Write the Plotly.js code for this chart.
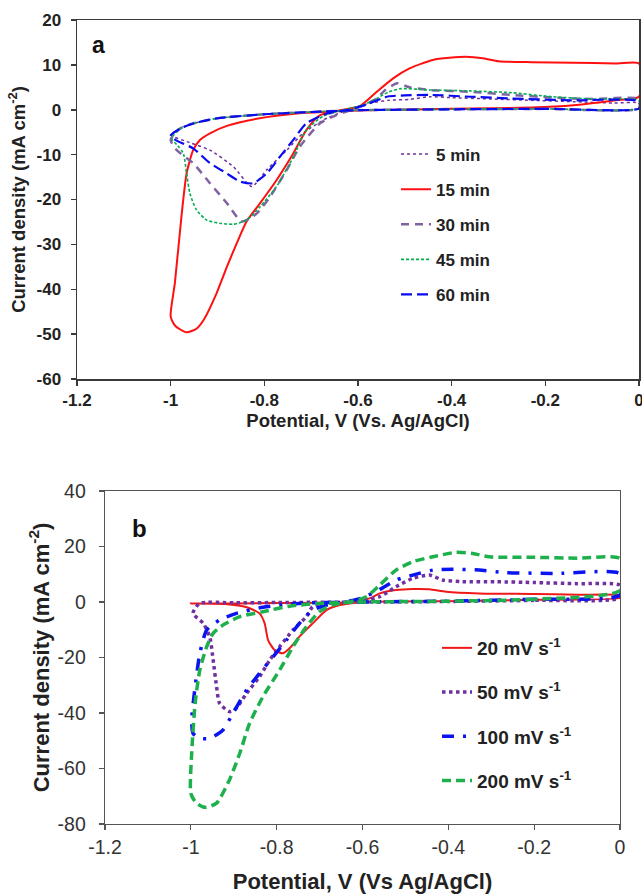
<!DOCTYPE html>
<html>
<head>
<meta charset="utf-8">
<script src="https://cdn.plot.ly/plotly-3.0.1.min.js"></script>
<style>html,body{margin:0;padding:0;background:#fff;}#chart{width:642px;height:894px;}</style>
</head>
<body>
<div id="chart"></div>
<script>
// ---------- Panel (a): deposition time ----------
const namesA = ["5 min", "15 min", "30 min", "45 min", "60 min"];

const x5 = [0, -0.2, -0.4, -0.6, -0.7, -0.8, -0.9, -0.95, -0.975, -1.0, -0.96, -0.916, -0.866, -0.827, -0.795, -0.752, -0.717, -0.667, -0.62, -0.577, -0.534, -0.49, -0.447, -0.403, -0.316, -0.228, -0.141, -0.054, 0, 0];
const y5 = [0.3, 0.2, 0.1, -0.1, -0.5, -1.0, -1.9, -3.0, -4.0, -5.6, -7.3, -9.0, -12.7, -17.1, -13.4, -9.0, -5.2, -1.9, 0, 1.4, 2.1, 2.3, 2.9, 2.7, 2.4, 2.1, 1.8, 1.5, 1.5, 0.3];

const x15 = [0, -0.05, -0.14, -0.23, -0.4, -0.58, -0.66, -0.74, -0.81, -0.88, -0.916, -0.937, -0.952, -0.966, -0.977, -0.991, -1.0, -0.99, -0.966, -0.945, -0.93, -0.902, -0.88, -0.859, -0.838, -0.809, -0.774, -0.738, -0.71, -0.681, -0.632, -0.596, -0.56, -0.525, -0.49, -0.44, -0.37, -0.33, -0.30, -0.23, -0.14, -0.05, 0, 0];
const y15 = [2.9, 2.1, 1.0, 0.5, 0.2, -0.1, -0.4, -0.95, -1.9, -3.6, -5.25, -6.7, -9.0, -14.2, -23.8, -38.6, -46.1, -48.2, -49.6, -48.8, -46.9, -40.9, -35, -29.8, -24.9, -20.8, -15.7, -9.7, -4.5, -1.2, 0.0, 0.8, 4.0, 7.0, 9.2, 11.1, 11.8, 11.4, 10.8, 10.6, 10.5, 10.3, 10.3, 2.9];

const x30 = [0, -0.2, -0.4, -0.6, -0.7, -0.8, -0.9, -0.95, -0.98, -1.0, -0.987, -0.952, -0.916, -0.88, -0.848, -0.816, -0.788, -0.752, -0.724, -0.681, -0.646, -0.6, -0.56, -0.542, -0.516, -0.49, -0.447, -0.36, -0.272, -0.185, -0.098, 0, 0];
const y30 = [0.3, 0.2, 0.1, -0.1, -0.5, -1.0, -1.9, -3.0, -4.2, -6.7, -9, -11.9, -16.4, -20.8, -24.9, -23.1, -19.4, -13.4, -8.2, -3.0, -1.2, 0.5, 2.5, 4.4, 5.9, 5.0, 4.4, 4.0, 3.3, 2.7, 2.4, 2.4, 0.3];

const x45 = [0, -0.2, -0.4, -0.6, -0.7, -0.8, -0.9, -0.95, -0.98, -0.998, -0.985, -0.973, -0.966, -0.959, -0.945, -0.923, -0.895, -0.866, -0.838, -0.809, -0.774, -0.738, -0.71, -0.674, -0.63, -0.59, -0.56, -0.534, -0.508, -0.447, -0.36, -0.272, -0.185, -0.098, 0, 0];
const y45 = [0.3, 0.2, 0.1, -0.1, -0.5, -1.0, -1.9, -3.0, -4.2, -6.4, -8.0, -9.7, -14.2, -18.6, -22.3, -24.6, -25.3, -25.5, -24.6, -21.6, -17.1, -10.5, -4.5, -1.4, 0, 1.0, 2.5, 4.0, 4.7, 4.4, 4.2, 3.8, 2.9, 2.4, 2.1, 0.3];

const x60 = [0, -0.2, -0.4, -0.6, -0.7, -0.8, -0.9, -0.95, -0.98, -1.0, -0.985, -0.952, -0.916, -0.88, -0.852, -0.824, -0.795, -0.767, -0.738, -0.71, -0.667, -0.62, -0.58, -0.55, -0.534, -0.5, -0.447, -0.36, -0.272, -0.141, 0, 0];
const y60 = [0.3, 0.2, 0.1, -0.1, -0.5, -1.0, -1.9, -3.0, -4.2, -5.8, -7.0, -8.6, -11.9, -14.2, -16.0, -16.4, -14.2, -10.5, -6.7, -3.0, -0.9, 0, 1.2, 2.5, 3.0, 3.2, 3.3, 2.9, 2.5, 2.1, 1.9, 0.3];

// ---------- Panel (b): scan rate ----------
const namesB = ["20 mV s<sup>-1</sup>", "50 mV s<sup>-1</sup>", "100 mV s<sup>-1</sup>", "200 mV s<sup>-1</sup>"];

const x20 = [0, -0.2, -0.4, -0.6, -0.63, -0.653, -0.684, -0.716, -0.747, -0.77, -0.785, -0.805, -0.82, -0.828, -0.84, -0.87, -0.92, -1.0, -0.9, -0.8, -0.7, -0.62, -0.58, -0.56, -0.522, -0.483, -0.444, -0.405, -0.328, -0.2, -0.1, 0, 0];
const y20 = [1.5, 0.8, 0.3, 0, -0.5, -1.1, -2.9, -7.7, -12.5, -16.7, -18.5, -17.3, -13.7, -7.7, -4.1, -1.9, -0.7, -0.5, -0.5, -0.4, -0.3, 0, 1.5, 3.1, 4.3, 4.7, 4.6, 3.7, 3.1, 2.9, 2.6, 2.4, 1.5];

const x50 = [0, -0.2, -0.4, -0.6, -0.8, -0.9, -0.98, -0.995, -0.971, -0.956, -0.948, -0.94, -0.933, -0.91, -0.898, -0.87, -0.84, -0.816, -0.793, -0.762, -0.731, -0.716, -0.69, -0.64, -0.6, -0.56, -0.522, -0.483, -0.444, -0.413, -0.367, -0.289, -0.2, -0.1, 0, 0];
const y50 = [1.5, 0.6, 0.2, 0, -0.2, -0.3, -0.5, -4.1, -7.7, -12.5, -20.9, -30.5, -36.5, -39.5, -38.9, -32.9, -26.9, -20.9, -16.1, -10.1, -5.3, -1.7, -0.6, 0, 0.5, 1.9, 5.5, 8.5, 9.7, 7.9, 7.3, 7.3, 7.0, 6.6, 6.0, 1.5];

const x100 = [0, -0.2, -0.4, -0.6, -0.75, -0.832, -0.894, -0.933, -0.963, -0.979, -0.99, -0.998, -0.995, -0.979, -0.956, -0.925, -0.902, -0.87, -0.84, -0.808, -0.777, -0.747, -0.716, -0.684, -0.64, -0.6, -0.56, -0.522, -0.483, -0.436, -0.39, -0.328, -0.266, -0.15, 0, 0];
const y100 = [2.5, 1.0, 0.3, 0, -0.5, -1.9, -4.1, -6.5, -10.1, -18.5, -30.5, -42.5, -47.3, -49.1, -49.1, -46.1, -40.1, -31.7, -25.7, -19.7, -13.7, -7.7, -2.9, -1.1, 0, 1.5, 4.5, 7.9, 9.7, 11.5, 11.8, 11.5, 10.6, 10.3, 10.2, 2.5];

const x200 = [0, -0.2, -0.4, -0.6, -0.7, -0.77, -0.832, -0.886, -0.925, -0.948, -0.963, -0.979, -0.99, -0.998, -1.0, -0.987, -0.967, -0.94, -0.91, -0.886, -0.863, -0.832, -0.793, -0.762, -0.731, -0.7, -0.669, -0.63, -0.591, -0.56, -0.522, -0.483, -0.436, -0.382, -0.343, -0.305, -0.2, -0.1, 0, 0];
const y200 = [4.2, 1.0, 0.3, 0, -0.5, -1.5, -3.5, -5.3, -8.3, -11.3, -16.1, -24.5, -36.5, -54.5, -69, -72.5, -74, -72.5, -64.1, -54.5, -43.7, -34.1, -24.5, -16.1, -8.9, -3.5, -1.0, 0, 1.9, 6.1, 11.5, 14.5, 16.3, 17.9, 17.5, 16.3, 16.1, 15.8, 15.6, 4.2];

// ---------- tick labels ----------
const xTickVals = [-1.2, -1, -0.8, -0.6, -0.4, -0.2, 0];
const xTickText = ["-1.2", "-1", "-0.8", "-0.6", "-0.4", "-0.2", "0"];
const yTickValsA = [-60, -50, -40, -30, -20, -10, 0, 10, 20];
const yTickTextA = ["-60", "-50", "-40", "-30", "-20", "-10", "0", "10", "20"];
const yTickValsB = [-80, -60, -40, -20, 0, 20, 40];
const yTickTextB = ["-80", "-60", "-40", "-20", "0", "20", "40"];

const FONT = "Liberation Sans, Arial, sans-serif";

function tr(x, y, name, color, width, dash, xa, ya, leg, grp) {
  return {
    x: x, y: y, name: name, type: "scatter", mode: "lines",
    line: {color: color, width: width, dash: dash, shape: "spline", smoothing: 0.6},
    xaxis: xa, yaxis: ya, legend: leg, legendgroup: grp, hoverinfo: "skip"
  };
}

const data = [
  tr(x5, y5, namesA[0], "#7030A0", 1.5, "dot", "x", "y", "legend", "a1"),
  tr(x15, y15, namesA[1], "#FF1010", 2, "solid", "x", "y", "legend", "a2"),
  tr(x30, y30, namesA[2], "#8064A2", 2.5, "8px,6px", "x", "y", "legend", "a3"),
  tr(x45, y45, namesA[3], "#00B050", 1.6, "3px,2px", "x", "y", "legend", "a4"),
  tr(x60, y60, namesA[4], "#0A0AF0", 2.2, "11px,5px", "x", "y", "legend", "a5"),
  tr(x20, y20, namesB[0], "#F01818", 2, "solid", "x2", "y2", "legend2", "b1"),
  tr(x50, y50, namesB[1], "#7030A0", 3.5, "dot", "x2", "y2", "legend2", "b2"),
  tr(x100, y100, namesB[2], "#0A14F0", 3.5, "12px,9px,3px,9px", "x2", "y2", "legend2", "b3"),
  tr(x200, y200, namesB[3], "#1DB04C", 3.5, "9px,5px", "x2", "y2", "legend2", "b4")
];

const axA = {
  showgrid: false, zeroline: false, showline: true, mirror: true,
  linecolor: "#3a3a3a", linewidth: 1.5, ticks: "outside", ticklen: 5, tickwidth: 1.5, tickcolor: "#3a3a3a",
  ticklabeloverflow: "allow",
  tickfont: {family: FONT, size: 17, color: "#222", weight: 700}
};
const axB = {
  showgrid: false, zeroline: false, showline: true, mirror: true,
  linecolor: "#555", linewidth: 1.3, ticks: "outside", ticklen: 5, tickwidth: 1.3, tickcolor: "#555",
  ticklabeloverflow: "allow",
  tickfont: {family: FONT, size: 19.5, color: "#333"}
};

const layout = {
  width: 642, height: 894,
  margin: {l: 0, r: 0, t: 0, b: 0},
  paper_bgcolor: "#fff", plot_bgcolor: "#fff",
  font: {family: FONT},
  showlegend: true,
  xaxis: Object.assign({}, axA, {
    domain: [77/642, 639/642], range: [-1.2, 0], anchor: "y",
    tickvals: xTickVals, ticktext: xTickText,
    title: {text: "Potential, V (Vs. Ag/AgCl)", font: {family: FONT, size: 18.5, color: "#222", weight: 700}, standoff: 0}
  }),
  yaxis: Object.assign({}, axA, {
    domain: [1 - 379/894, 1 - 20/894], range: [-60, 20], anchor: "x",
    ticklabelstandoff: 6,
    tickvals: yTickValsA, ticktext: yTickTextA,
    title: {text: "Current density (mA cm<sup>-2</sup>)", font: {family: FONT, size: 18.5, color: "#222", weight: 700}, standoff: 6}
  }),
  xaxis2: Object.assign({}, axB, {
    domain: [105/642, 620/642], range: [-1.2, 0], anchor: "y2",
    tickvals: xTickVals, ticktext: xTickText,
    title: {text: "Potential, V (Vs Ag/AgCl)", font: {family: FONT, size: 22, color: "#222", weight: 700}, standoff: 18}
  }),
  yaxis2: Object.assign({}, axB, {
    domain: [1 - 824/894, 1 - 491/894], range: [-80, 40], anchor: "x2",
    ticklabelstandoff: 9,
    tickvals: yTickValsB, ticktext: yTickTextB,
    title: {text: "Current density (mA cm<sup>-2</sup>)", font: {family: FONT, size: 22, color: "#222", weight: 700}, standoff: 2}
  }),
  legend: {
    x: 396/642, y: 1 - 136.5/894, xanchor: "left", yanchor: "top",
    bgcolor: "rgba(0,0,0,0)", borderwidth: 0,
    font: {family: FONT, size: 17, color: "#222", weight: 700},
    tracegroupgap: 10, itemclick: false
  },
  legend2: {
    x: 437/642, y: 1 - 629/894, xanchor: "left", yanchor: "top",
    bgcolor: "rgba(0,0,0,0)", borderwidth: 0,
    font: {family: FONT, size: 19, color: "#222", weight: 700},
    tracegroupgap: 16.5, itemclick: false
  },
  annotations: [
    {text: "a", xref: "paper", yref: "paper", x: 98/642, y: 1 - 45/894, xanchor: "center", yanchor: "middle",
     showarrow: false, font: {family: FONT, size: 23, color: "#111", weight: 700}},
    {text: "b", xref: "paper", yref: "paper", x: 139/642, y: 1 - 528/894, xanchor: "center", yanchor: "middle",
     showarrow: false, font: {family: FONT, size: 24, color: "#111", weight: 700}}
  ]
};

Plotly.newPlot("chart", data, layout, {displayModeBar: false, staticPlot: true});
</script>
</body>
</html>
